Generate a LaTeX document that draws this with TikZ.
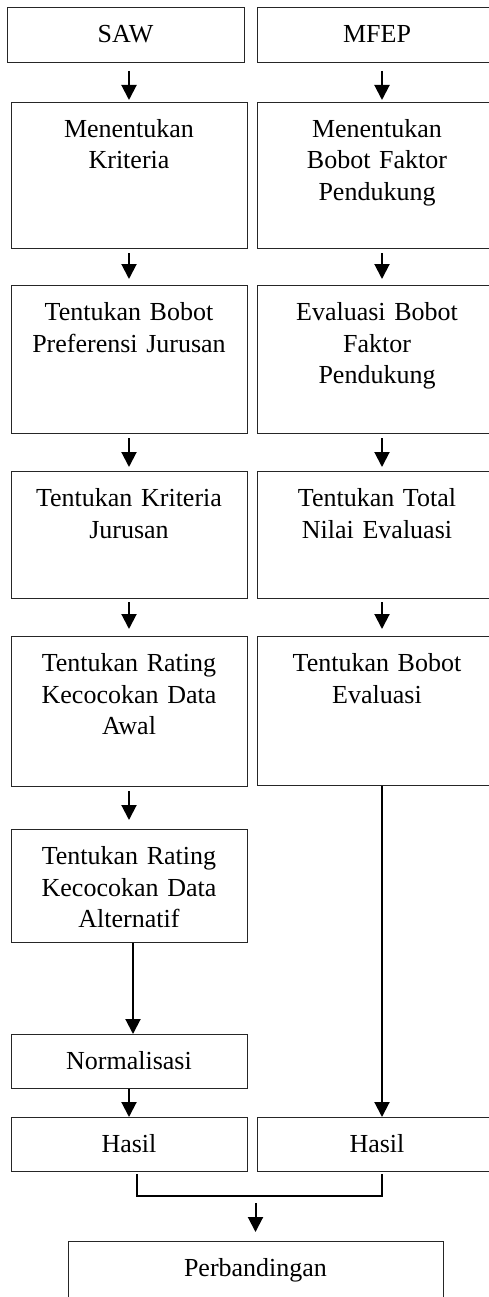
\documentclass[tikz,border=0pt]{standalone}
\usepackage{fontspec}
\setmainfont{Liberation Serif}
\usetikzlibrary{arrows.meta}

\begin{document}
\begin{tikzpicture}[x=1pt, y=-1pt,
    tahap/.style={draw=black!85, line width=1pt, inner sep=0pt, anchor=north,
      align=center, text height=35pt, font=\fontsize{26}{31.5}\selectfont},
    panah/.style={line width=2pt, -{Triangle[width=15pt,length=15pt]}}]
    \useasboundingbox (0,0) rectangle (489,1297);
    \clip (0,0) rectangle (489,1297);

    % kolom SAW
    \node[tahap, text width=237pt, text depth=20pt] (saw) at (125.5,7) {SAW};
    \node[tahap, text width=236pt, text depth=111pt] (s1) at (129,102) {Menentukan\\Kriteria};
    \node[tahap, text width=236pt, text depth=113pt] (s2) at (129,285) {Tentukan Bobot\\Preferensi Jurusan};
    \node[tahap, text width=236pt, text depth=92pt] (s3) at (129,471) {Tentukan Kriteria\\Jurusan};
    \node[tahap, text width=236pt, text depth=115pt] (s4) at (129,636) {Tentukan Rating\\Kecocokan Data\\Awal};
    \node[tahap, text width=236pt, text depth=78pt] (s5) at (129,829) {Tentukan Rating\\Kecocokan Data\\Alternatif};
    \node[tahap, text width=236pt, text depth=19pt] (s6) at (129,1034) {Normalisasi};
    \node[tahap, text width=236pt, text depth=19pt] (s7) at (129,1117) {Hasil};

    % kolom MFEP
    \node[tahap, text width=240pt, text depth=20pt] (mfep) at (377,7) {MFEP};
    \node[tahap, text width=240pt, text depth=111pt] (m1) at (377,102) {Menentukan\\Bobot Faktor\\Pendukung};
    \node[tahap, text width=240pt, text depth=113pt] (m2) at (377,285) {Evaluasi Bobot\\Faktor\\Pendukung};
    \node[tahap, text width=240pt, text depth=92pt] (m3) at (377,471) {Tentukan Total\\Nilai Evaluasi};
    \node[tahap, text width=240pt, text depth=114pt] (m4) at (377,636) {Tentukan Bobot\\Evaluasi};
    \node[tahap, text width=240pt, text depth=19pt] (m7) at (377,1117) {Hasil};

    \node[tahap, text width=375pt, text depth=44pt] (banding) at (255.5,1241) {Perbandingan};

    % panah
    \draw[panah, shorten <=8pt, shorten >=2pt] (s1.north |- saw.south) -- (s1.north);
    \draw[panah, shorten <=4pt, shorten >=6pt] (s1) -- (s2);
    \draw[panah, shorten <=4pt, shorten >=4pt] (s2) -- (s3);
    \draw[panah, shorten <=3pt, shorten >=7pt] (s3) -- (s4);
    \draw[panah, shorten <=4pt, shorten >=9pt] (s4) -- (s5);
    \draw[panah] ([xshift=4pt]s5.south) -- ([xshift=4pt]s6.north);
    \draw[panah] (s6) -- (s7);

    \draw[panah, shorten <=8pt, shorten >=2pt] ([xshift=5pt]mfep.south) -- ([xshift=5pt]m1.north);
    \draw[panah, shorten <=4pt, shorten >=6pt] ([xshift=5pt]m1.south) -- ([xshift=5pt]m2.north);
    \draw[panah, shorten <=4pt, shorten >=4pt] ([xshift=5pt]m2.south) -- ([xshift=5pt]m3.north);
    \draw[panah, shorten <=3pt, shorten >=7pt] ([xshift=5pt]m3.south) -- ([xshift=5pt]m4.north);
    \draw[panah] ([xshift=5pt]m4.south) -- ([xshift=5pt]m7.north);

    % gabung hasil
    \draw[line width=1.5pt] ([xshift=8pt]s7.south) ++(0,2) -- ++(0,22) coordinate (gabung) -| ([xshift=5pt,yshift=-2pt]m7.south);
    \draw[panah, shorten <=7pt, shorten >=9pt] (gabung -| banding.north) -- (banding.north);
\end{tikzpicture}
\end{document}
